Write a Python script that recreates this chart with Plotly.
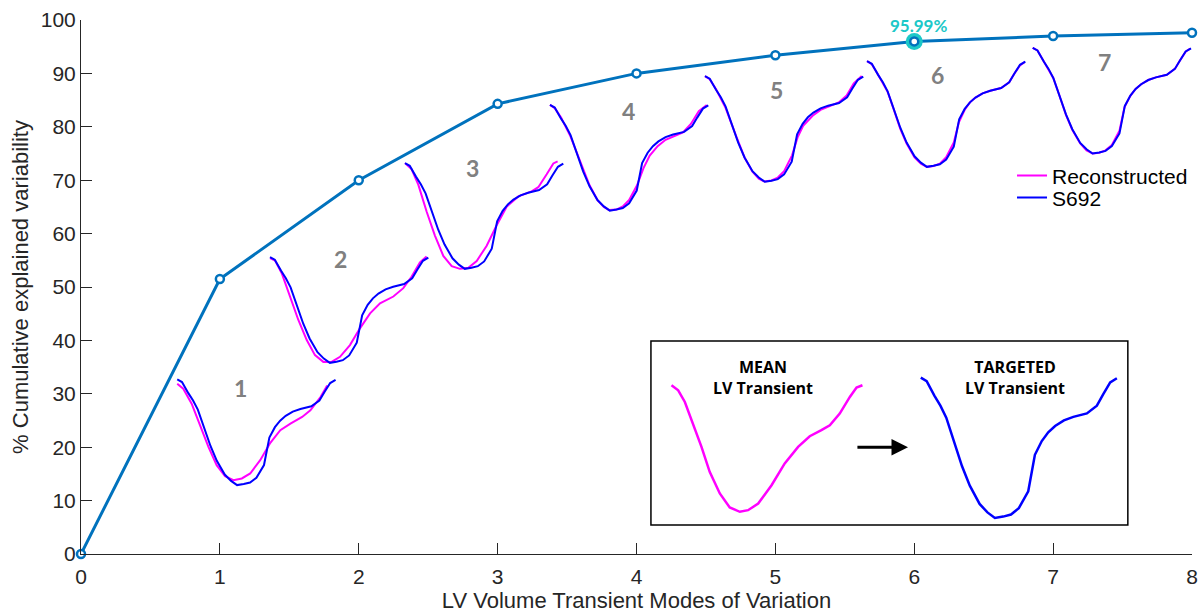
import plotly.graph_objects as go

# ---------------- data ----------------
modes = [0, 1, 2, 3, 4, 5, 6, 7, 8]
cum_var = [0, 51.5, 70.0, 84.3, 90.0, 93.4, 95.99, 97.0, 97.6]
highlight_mode = 6
highlight_value = 95.99
mode_labels = ["1", "2", "3", "4", "5", "6", "7"]

# normalized waveform of subject S692 (t in [0,1], v in [0,1])
target_t = [0, 0.03, 0.07, 0.10, 0.13, 0.165, 0.21, 0.25, 0.30, 0.34, 0.378, 0.42, 0.46,
            0.50, 0.548, 0.582, 0.617, 0.65, 0.685, 0.73, 0.778, 0.847, 0.898, 0.93, 0.966, 1.0]
target_v = [1.0, 0.975, 0.87, 0.80, 0.714, 0.57, 0.37, 0.23, 0.10, 0.04, 0.0, 0.01, 0.025,
            0.07, 0.19, 0.45, 0.548, 0.61, 0.655, 0.695, 0.72, 0.745, 0.80, 0.88, 0.965, 0.995]

# normalized mean waveform
mean_t = [0, 0.035, 0.07, 0.113, 0.157, 0.2, 0.253, 0.305, 0.358, 0.401, 0.454, 0.524,
          0.593, 0.663, 0.724, 0.785, 0.829, 0.881, 0.934, 0.969, 1.0]
mean_v = [1.0, 0.96, 0.868, 0.697, 0.513, 0.316, 0.145, 0.034, 0.0, 0.013, 0.066, 0.21,
          0.382, 0.513, 0.597, 0.645, 0.684, 0.776, 0.908, 0.982, 1.0]

# reconstructed waveforms with 1..7 modes
rec_t = {
    1: [0, 0.038, 0.091, 0.144, 0.197, 0.249, 0.302, 0.355, 0.408, 0.461, 0.524, 0.588,
        0.651, 0.715, 0.789, 0.841, 0.905, 0.947],
    2: [0, 0.032, 0.074, 0.126, 0.179, 0.232, 0.284, 0.337, 0.389, 0.442, 0.505, 0.568,
        0.632, 0.695, 0.779, 0.842, 0.895, 0.947, 0.989],
    3: [0, 0.042, 0.084, 0.137, 0.189, 0.242, 0.295, 0.347, 0.40, 0.453, 0.516, 0.579,
        0.642, 0.716, 0.80, 0.842, 0.895, 0.937, 0.964],
    4: [0, 0.03, 0.07, 0.13, 0.20, 0.25, 0.30, 0.34, 0.375, 0.42, 0.46, 0.50, 0.55, 0.59,
        0.63, 0.68, 0.73, 0.78, 0.84, 0.89, 0.94, 0.99],
    5: [0, 0.03, 0.07, 0.13, 0.20, 0.25, 0.30, 0.34, 0.375, 0.42, 0.46, 0.50, 0.55, 0.585,
        0.62, 0.68, 0.73, 0.78, 0.845, 0.895, 0.94, 0.99],
    6: [0, 0.03, 0.07, 0.13, 0.165, 0.21, 0.25, 0.30, 0.34, 0.378, 0.42, 0.46, 0.50, 0.548,
        0.58, 0.617, 0.65, 0.685, 0.73, 0.778, 0.847, 0.898, 0.93, 0.966, 0.995],
    7: [0, 0.03, 0.07, 0.13, 0.165, 0.21, 0.25, 0.30, 0.34, 0.378, 0.42, 0.46, 0.50, 0.548,
        0.58, 0.617, 0.65, 0.685, 0.73, 0.778, 0.847, 0.898, 0.93, 0.966, 0.995],
}
rec_v = {
    1: [0.959, 0.912, 0.77, 0.566, 0.362, 0.189, 0.085, 0.047, 0.063, 0.11, 0.236, 0.40,
        0.519, 0.582, 0.645, 0.708, 0.833, 0.943],
    2: [0.99, 0.968, 0.848, 0.627, 0.405, 0.215, 0.073, 0.009, 0.009, 0.057, 0.168, 0.326,
        0.468, 0.563, 0.627, 0.706, 0.816, 0.949, 1.006],
    3: [1.0, 0.942, 0.797, 0.54, 0.315, 0.122, 0.026, 0.0, 0.01, 0.074, 0.219, 0.412,
        0.588, 0.685, 0.733, 0.772, 0.894, 0.997, 1.016],
    4: [1.0, 0.97, 0.88, 0.70, 0.43, 0.24, 0.10, 0.035, 0.005, 0.01, 0.04, 0.10, 0.24, 0.40,
        0.52, 0.61, 0.67, 0.70, 0.74, 0.82, 0.94, 1.0],
    5: [1.0, 0.97, 0.875, 0.70, 0.42, 0.23, 0.095, 0.03, 0.003, 0.012, 0.04, 0.10, 0.25, 0.42,
        0.53, 0.625, 0.68, 0.71, 0.75, 0.815, 0.93, 1.0],
    6: [1.0, 0.97, 0.87, 0.71, 0.56, 0.36, 0.22, 0.09, 0.03, 0.0, 0.008, 0.03, 0.09, 0.23,
        0.42, 0.54, 0.61, 0.655, 0.695, 0.72, 0.745, 0.80, 0.88, 0.96, 0.99],
    7: [1.0, 0.975, 0.87, 0.714, 0.565, 0.365, 0.225, 0.095, 0.03, 0.0, 0.008, 0.03, 0.08,
        0.215, 0.44, 0.545, 0.61, 0.655, 0.695, 0.72, 0.745, 0.80, 0.88, 0.963, 0.993],
}

# ---------------- layout of the small waveforms (data units) ----------------
wave_x0 = [0.693, 1.361, 2.333, 3.377, 4.493, 5.66, 6.853]
wave_y0 = [12.9, 35.8, 53.4, 64.3, 69.7, 72.5, 75.0]
WAVE_W = 1.14
WAVE_H = 19.8
label_pos = [(1.145, 31.1), (1.865, 55.2), (2.816, 72.3), (3.94, 83.0),
             (5.01, 86.9), (6.17, 89.7), (7.37, 92.1)]

MAG = "#FF00FF"
BLU = "#0000FF"
MAIN = "#0072BD"
CYAN = "#1CC8C8"
AX = "#262626"
BOLDFONT = "Lato"


def place(ts, vs, x0, y0, w, h):
    return [x0 + t * w for t in ts], [y0 + v * h for v in vs]


fig = go.Figure()

for i in range(7):
    m = i + 1
    xr, yr = place(rec_t[m], rec_v[m], wave_x0[i], wave_y0[i], WAVE_W, WAVE_H)
    xb, yb = place(target_t, target_v, wave_x0[i], wave_y0[i], WAVE_W, WAVE_H)
    fig.add_trace(go.Scatter(x=xr, y=yr, mode="lines", line=dict(color=MAG, width=2),
                             name="Reconstructed", showlegend=(i == 0), legend="legend",
                             hoverinfo="skip"))
    fig.add_trace(go.Scatter(x=xb, y=yb, mode="lines", line=dict(color=BLU, width=2),
                             name="S692", showlegend=(i == 0), legend="legend2",
                             hoverinfo="skip"))

# inset box curves
xm, ym = place(mean_t, mean_v, 4.252, 7.9, 1.375, 23.7)
fig.add_trace(go.Scatter(x=xm, y=ym, mode="lines", line=dict(color=MAG, width=2.5),
                         showlegend=False, hoverinfo="skip"))
xt, yt = place(target_t, target_v, 6.047, 6.74, 1.412, 26.3)
fig.add_trace(go.Scatter(x=xt, y=yt, mode="lines", line=dict(color=BLU, width=2.5),
                         showlegend=False, hoverinfo="skip"))

# main curve
fig.add_trace(go.Scatter(x=modes, y=cum_var, mode="lines", line=dict(color=MAIN, width=3),
                         showlegend=False, cliponaxis=False))
fig.add_trace(go.Scatter(x=[highlight_mode], y=[highlight_value], mode="markers",
                         marker=dict(color=CYAN, size=17), showlegend=False, cliponaxis=False))
fig.add_trace(go.Scatter(x=modes, y=cum_var, mode="markers",
                         marker=dict(symbol="circle", size=8, color="white",
                                     line=dict(color=MAIN, width=2.5)),
                         showlegend=False, cliponaxis=False))

annotations = []
for lab, (lx, ly) in zip(mode_labels, label_pos):
    annotations.append(dict(x=lx, y=ly, text=f"<b>{lab}</b>", showarrow=False,
                            font=dict(family=BOLDFONT, size=23, color="#808080")))
annotations.append(dict(x=highlight_mode + 0.03, y=98.9, text=f"<b>{highlight_value:.2f}%</b>",
                        showarrow=False, font=dict(family=BOLDFONT, size=17, color=CYAN)))
for cx, top in [(4.91, "MEAN"), (6.725, "TARGETED")]:
    annotations.append(dict(x=cx, y=33.0, text=f"<b>{top}<br>LV Transient</b>", showarrow=False,
                            font=dict(family="Open Sans", size=16, color="black")))
annotations.append(dict(x=5.955, y=20.0, ax=5.58, ay=20.0, axref="x", ayref="y",
                        xref="x", yref="y", text="", showarrow=True, arrowhead=2,
                        arrowsize=1.1, arrowwidth=3, arrowcolor="black"))

leg_common = dict(xanchor="left", yanchor="middle", bgcolor="rgba(0,0,0,0)",
                  font=dict(family="Liberation Sans, Arial", size=21, color="black"),
                  itemwidth=30)

fig.update_layout(
    width=1203, height=613,
    margin=dict(l=81, r=11, t=20, b=59, autoexpand=False),
    paper_bgcolor="white", plot_bgcolor="white",
    font=dict(family="Liberation Sans, Arial", size=21, color=AX),
    shapes=[dict(type="rect", xref="x", yref="y", x0=4.104, x1=7.538, y0=5.43, y1=39.9,
                 line=dict(color="black", width=1.5), fillcolor="rgba(0,0,0,0)", layer="below")],
    annotations=annotations,
    legend=dict(x=0.838, y=0.708, **leg_common),
    legend2=dict(x=0.838, y=0.667, **leg_common),
    xaxis=dict(range=[0, 8], tickvals=list(range(9)), ticks="inside", ticklen=11,
               tickcolor=AX, showline=True, linecolor=AX, linewidth=1, showgrid=False,
               zeroline=False, automargin=False, ticklabelstandoff=4,
               title=dict(text="LV Volume Transient Modes of Variation",
                          standoff=4, font=dict(size=22)),
               tickfont=dict(size=21)),
    yaxis=dict(range=[0, 100], tickvals=list(range(0, 101, 10)), ticks="inside", ticklen=11,
               tickcolor=AX, showline=True, linecolor=AX, linewidth=1, showgrid=False,
               zeroline=False, automargin=False,
               title=dict(text="% Cumulative explained variability",
                          standoff=6, font=dict(size=22)),
               tickfont=dict(size=21)),
)

fig.write_html("out.html")
